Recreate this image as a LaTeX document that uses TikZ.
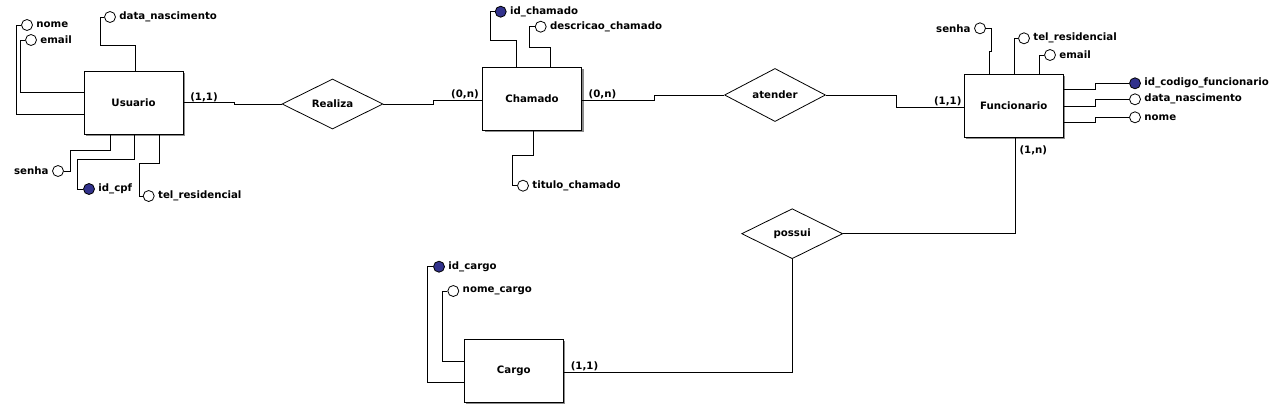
\documentclass[tikz,border=0pt]{standalone}
\usepackage{fontspec}
\setmainfont{DejaVu Sans}
\usetikzlibrary{shapes.geometric,shadows}
\definecolor{keyblue}{RGB}{50,50,140}
\begin{document}
\begin{tikzpicture}[x={(1pt,0)},y={(0,-1pt)},
  every node/.style={font=\bfseries\fontsize{10.2}{12}\selectfont},
  conn/.style={draw=black,line width=1pt},
  ent/.style={draw,line width=1pt,fill=white,minimum width=99pt,minimum height=63pt,inner sep=0pt,
    drop shadow={shadow xshift=2pt,shadow yshift=-2pt,fill=black!45,opacity=1}},
  rel/.style={draw,diamond,line width=0.8pt,fill=white,minimum width=101pt,minimum height=50pt,inner sep=0pt},
  att/.style={draw,circle,line width=0.8pt,fill=white,minimum size=11pt,inner sep=0pt,
    label distance=0.5pt,every label/.style={text height=1.5ex,text depth=.3ex,inner sep=3pt}},
  key/.style={att,fill=keyblue},
  card/.style={inner sep=0pt,text height=1.5ex,text depth=.3ex}]
\useasboundingbox[fill=white] (0,0) rectangle (1279,410);

% entities
\node[ent] (usu) at (133.5,102.5) {Usuario};
\node[ent] (cha) at (532,98.5) {Chamado};
\node[ent] (fun) at (1013.8,105.5) {Funcionario};
\node[ent] (car) at (513.8,370.5) {Cargo};

% relationships
\node[rel] (rea) at (332.5,104) {Realiza};
\node[rel] (ate) at (775,95) {atender};
\node[rel] (pos) at (792.2,233.7) {possui};

% Usuario attributes
\node[att,label=0:nome] (unome) at (27,25) {};
\node[att,label=0:email] (uemail) at (31,40) {};
\node[att,label=0:data\_nascimento] (udn) at (110,17) {};
\node[att,label=180:senha] (usenha) at (58,171) {};
\node[key,label=0:id\_cpf] (ucpf) at (89,189) {};
\node[att,label=0:tel\_residencial] (utel) at (148.7,196) {};

% Chamado attributes
\node[key,label=0:id\_chamado] (cid) at (500.7,11.7) {};
\node[att,label=0:descricao\_chamado] (cdesc) at (540.7,26.7) {};
\node[att,label=0:titulo\_chamado] (ctit) at (523,185.7) {};

% Funcionario attributes
\node[att,label=180:senha] (fsenha) at (980,28.3) {};
\node[att,label=0:tel\_residencial] (ftel) at (1024,38.3) {};
\node[att,label=0:email] (femail) at (1050,55) {};
\node[key,label=0:id\_codigo\_funcionario] (fid) at (1135,83.3) {};
\node[att,label=0:data\_nascimento] (fdn) at (1135,99.3) {};
\node[att,label=0:nome] (fnome) at (1135,117.3) {};

% Cargo attributes
\node[key,label=0:id\_cargo] (gid) at (439,266.7) {};
\node[att,label=0:nome\_cargo] (gnome) at (453.3,291) {};

% cardinalities
\node[card] (c1) at (204,97) {(1,1)};
\node[card] (c2) at (465,94) {(0,n)};
\node[card] (c3) at (602.5,94) {(0,n)};
\node[card] (c4) at (947.7,101) {(1,1)};
\node[card] (c5) at (1033.3,150) {(1,n)};
\node[card] (c6) at (584.5,366.5) {(1,1)};

% relationship connectors
\draw[conn] (usu.east) -- (234,102.5) -- (234,104) -- (rea.west);
\draw[conn] (rea.east) -- (433,104) -- (433,100) -- (cha.west |- 0,100);
\draw[conn] (cha.east |- 0,100) -- (654,100) -- (654,95) -- (ate.west);
\draw[conn] (ate.east) -- (896,95) -- (896,107) -- (fun.west |- 0,107);
\draw[conn] (1015.7,0 |- fun.south) -- (1015.7,233.7) -- (pos.east);
\draw[conn] (pos.south) -- (792.2,372.3) -- (car.east |- 0,372.3);

% Usuario attribute connectors
\draw[conn] (unome) -- (16,25) -- (16,114) -- (usu.west |- 0,114);
\draw[conn] (uemail) -- (20,40) -- (20,92) -- (usu.west |- 0,92);
\draw[conn] (udn) -- (100,17) -- (100,45) -- (135,45) -- (135,0 |- usu.north);
\draw[conn] (usenha) -- (70.7,171) -- (70.7,150) -- (110,150) -- (110,0 |- usu.south);
\draw[conn] (ucpf) -- (77.3,189) -- (77.3,159.3) -- (134,159.3) -- (134,0 |- usu.south);
\draw[conn] (utel) -- (139,196) -- (139,163.3) -- (159.3,163.3) -- (159.3,0 |- usu.south);

% Chamado attribute connectors
\draw[conn] (cid) -- (490,11.7) -- (490,40) -- (516.7,40) -- (516.7,0 |- cha.north);
\draw[conn] (cdesc) -- (529.3,26.7) -- (529.3,47.7) -- (550,47.7) -- (550,0 |- cha.north);
\draw[conn] (ctit) -- (512.7,185.7) -- (512.7,155.7) -- (533.3,155.7) -- (533.3,0 |- cha.south);

% Funcionario attribute connectors
\draw[conn] (fsenha) -- (991.7,28.3) -- (991.7,51.7) -- (989.3,51.7) -- (989.3,0 |- fun.north);
\draw[conn] (ftel) -- (1014.3,38.3) -- (1014.3,0 |- fun.north);
\draw[conn] (femail) -- (1039.3,55) -- (1039.3,0 |- fun.north);
\draw[conn] (fid) -- (1095,83.3) -- (1095,89.3) -- (fun.east |- 0,89.3);
\draw[conn] (fdn) -- (1095,99.3) -- (1095,106) -- (fun.east |- 0,106);
\draw[conn] (fnome) -- (1095,117.3) -- (1095,122.3) -- (fun.east |- 0,122.3);

% Cargo attribute connectors
\draw[conn] (gid) -- (427.7,266.7) -- (427.7,382.7) -- (car.west |- 0,382.7);
\draw[conn] (gnome) -- (442.7,291) -- (442.7,361.7) -- (car.west |- 0,361.7);
\end{tikzpicture}
\end{document}
